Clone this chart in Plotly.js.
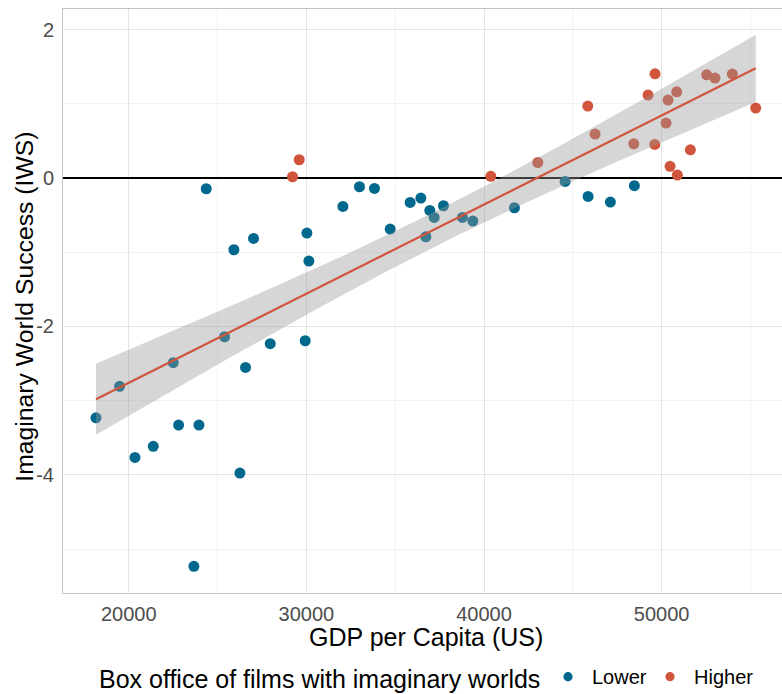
<!DOCTYPE html>
<html>
<head>
<meta charset="utf-8">
<script src="https://cdn.plot.ly/plotly-3.0.1.min.js"></script>
<style>html,body{margin:0;padding:0;background:#fff;}#chart{width:782px;height:694px;}</style>
</head>
<body>
<div id="chart"></div>
<script>
// Lower box office group
const lowerGDP = [24361, 30028, 27024, 25918, 30140, 25392, 27963, 29933, 22504, 26573,
  19482, 18154, 20349, 21379, 22805, 23950, 26256, 23666, 32054, 32988,
  33832, 34716, 35841, 36443, 36950, 37192, 36725, 37716, 38785, 39370,
  41711, 44564, 45858, 47113, 48464];
const lowerIWS = [-0.144, -0.741, -0.813, -0.966, -1.119, -2.139, -2.233, -2.193, -2.489, -2.552,
  -2.807, -3.231, -3.765, -3.616, -3.329, -3.329, -3.976, -5.234, -0.382, -0.117,
  -0.139, -0.687, -0.328, -0.270, -0.436, -0.530, -0.791, -0.373, -0.530, -0.580,
  -0.400, -0.045, -0.247, -0.323, -0.103];
// Higher box office group
const higherGDP = [29595, 29219, 40382, 43028, 45841, 46252, 48430, 49628, 49234, 49612,
  50247, 50360, 50848, 50473, 50884, 51615, 52537, 53005, 53978, 55296];
const higherIWS = [0.247, 0.018, 0.023, 0.210, 0.970, 0.593, 0.462, 1.406, 1.119, 0.454,
  0.741, 1.051, 1.163, 0.158, 0.040, 0.381, 1.392, 1.348, 1.402, 0.943];
const groupNames = ['Lower', 'Higher'];
const legendTitle = 'Box office of films with imaginary worlds';
const yTickVals = [-4, -2, 0, 2];
const yTickText = ['-4', '-2', '0', '2'];
const xTickVals = [20000, 30000, 40000, 50000];
const xTickText = ['20000', '30000', '40000', '50000'];

const BLUE = '#00688c', RED = '#d1553c';
const FONT = 'Liberation Sans, Arial, Helvetica, sans-serif';

// linear model fit (geom_smooth method = "lm") with 95% confidence band
const allX = lowerGDP.concat(higherGDP), allY = lowerIWS.concat(higherIWS);
const n = allX.length;
const xbar = allX.reduce((a, b) => a + b, 0) / n;
const ybar = allY.reduce((a, b) => a + b, 0) / n;
let sxx = 0, sxy = 0;
for (let i = 0; i < n; i++) { sxx += (allX[i] - xbar) ** 2; sxy += (allX[i] - xbar) * (allY[i] - ybar); }
const slope = sxy / sxx, icpt = ybar - slope * xbar;
let sse = 0;
for (let i = 0; i < n; i++) { sse += (allY[i] - icpt - slope * allX[i]) ** 2; }
const sres = Math.sqrt(sse / (n - 2));
const T95 = 2.006;
const xmin = Math.min(...allX), xmax = Math.max(...allX);
const fx = [], fy = [], up = [], lo = [];
for (let k = 0; k < 80; k++) {
  const x = xmin + (xmax - xmin) * k / 79;
  const y = icpt + slope * x;
  const se = sres * Math.sqrt(1 / n + (x - xbar) ** 2 / sxx);
  fx.push(x); fy.push(y); up.push(y + T95 * se); lo.push(y - T95 * se);
}

const traces = [
  {x: lowerGDP, y: lowerIWS, type: 'scatter', mode: 'markers', name: groupNames[0],
   marker: {color: BLUE, size: 11}},
  {x: higherGDP, y: higherIWS, type: 'scatter', mode: 'markers', name: groupNames[1],
   marker: {color: RED, size: 11}},
  {x: fx.concat(fx.slice().reverse()), y: up.concat(lo.slice().reverse()), type: 'scatter',
   mode: 'lines', fill: 'toself', fillcolor: 'rgba(153,153,153,0.4)', line: {width: 0},
   hoverinfo: 'skip'},
  {x: fx, y: fy, type: 'scatter', mode: 'lines', line: {color: RED, width: 2.2}}
];

// legend drawn in pixel positions of the figure (paper coords)
const ML = 63, MT = 9.3, MB = 100.7, PW = 782 - ML, PH = 694 - MT - MB;
const px = p => (p - ML) / PW;
const py = p => (694 - MB - p) / PH;
const dot = (cx, cy, col) => ({type: 'circle', xref: 'paper', yref: 'paper',
  xsizemode: 'pixel', ysizemode: 'pixel', xanchor: px(cx), yanchor: py(cy),
  x0: -4.6, x1: 4.6, y0: -4.6, y1: 4.6, fillcolor: col, line: {width: 0}});

const layout = {
  width: 782, height: 694,
  margin: {l: ML, r: 0, t: MT, b: MB},
  paper_bgcolor: '#fff', plot_bgcolor: '#fff',
  font: {family: FONT, color: '#000'},
  showlegend: false,
  xaxis: {
    range: [16297, 56775], tickvals: xTickVals, ticktext: xTickText,
    tickfont: {size: 20, color: '#4d4d4d'}, ticks: 'outside', ticklen: 3, tickcolor: 'rgba(0,0,0,0)',
    showgrid: true, gridcolor: '#e3e3e3', gridwidth: 1,
    minor: {tickvals: [25000, 35000, 45000, 55000], showgrid: true, gridcolor: '#f2f2f2', gridwidth: 1},
    showline: true, linecolor: '#c4c4c4', linewidth: 1, mirror: true, zeroline: false,
    automargin: false
  },
  yaxis: {
    range: [-5.593, 2.279], tickvals: yTickVals, ticktext: yTickText,
    tickfont: {size: 20, color: '#4d4d4d'}, ticks: 'outside', ticklen: 4, tickcolor: 'rgba(0,0,0,0)',
    showgrid: true, gridcolor: '#e3e3e3', gridwidth: 1,
    minor: {tickvals: [-5, -3, -1, 1], showgrid: true, gridcolor: '#f2f2f2', gridwidth: 1},
    showline: true, linecolor: '#c4c4c4', linewidth: 1, mirror: false,
    zeroline: true, zerolinecolor: '#000', zerolinewidth: 1.3,
    automargin: false
  },
  shapes: [dot(568, 677, BLUE), dot(670, 677, RED)],
  annotations: [
    {text: 'GDP per Capita (US)', xref: 'paper', yref: 'paper', x: px(426), y: py(637),
     xanchor: 'center', yanchor: 'middle', showarrow: false, font: {size: 25, color: '#000'}},
    {text: 'Imaginary World Success (IWS)', xref: 'paper', yref: 'paper', x: px(24.5), y: py(307.5),
     xanchor: 'center', yanchor: 'middle', textangle: -90, showarrow: false, font: {size: 24.75, color: '#000'}},
    {text: legendTitle, xref: 'paper', yref: 'paper', x: px(97), y: py(679),
     xanchor: 'left', yanchor: 'middle', showarrow: false, font: {size: 25, color: '#000'}},
    {text: groupNames[0], xref: 'paper', yref: 'paper', x: px(590), y: py(677),
     xanchor: 'left', yanchor: 'middle', showarrow: false, font: {size: 20, color: '#000'}},
    {text: groupNames[1], xref: 'paper', yref: 'paper', x: px(692), y: py(677),
     xanchor: 'left', yanchor: 'middle', showarrow: false, font: {size: 20, color: '#000'}}
  ]
};

Plotly.newPlot('chart', traces, layout, {displayModeBar: false, staticPlot: true});
</script>
</body>
</html>
